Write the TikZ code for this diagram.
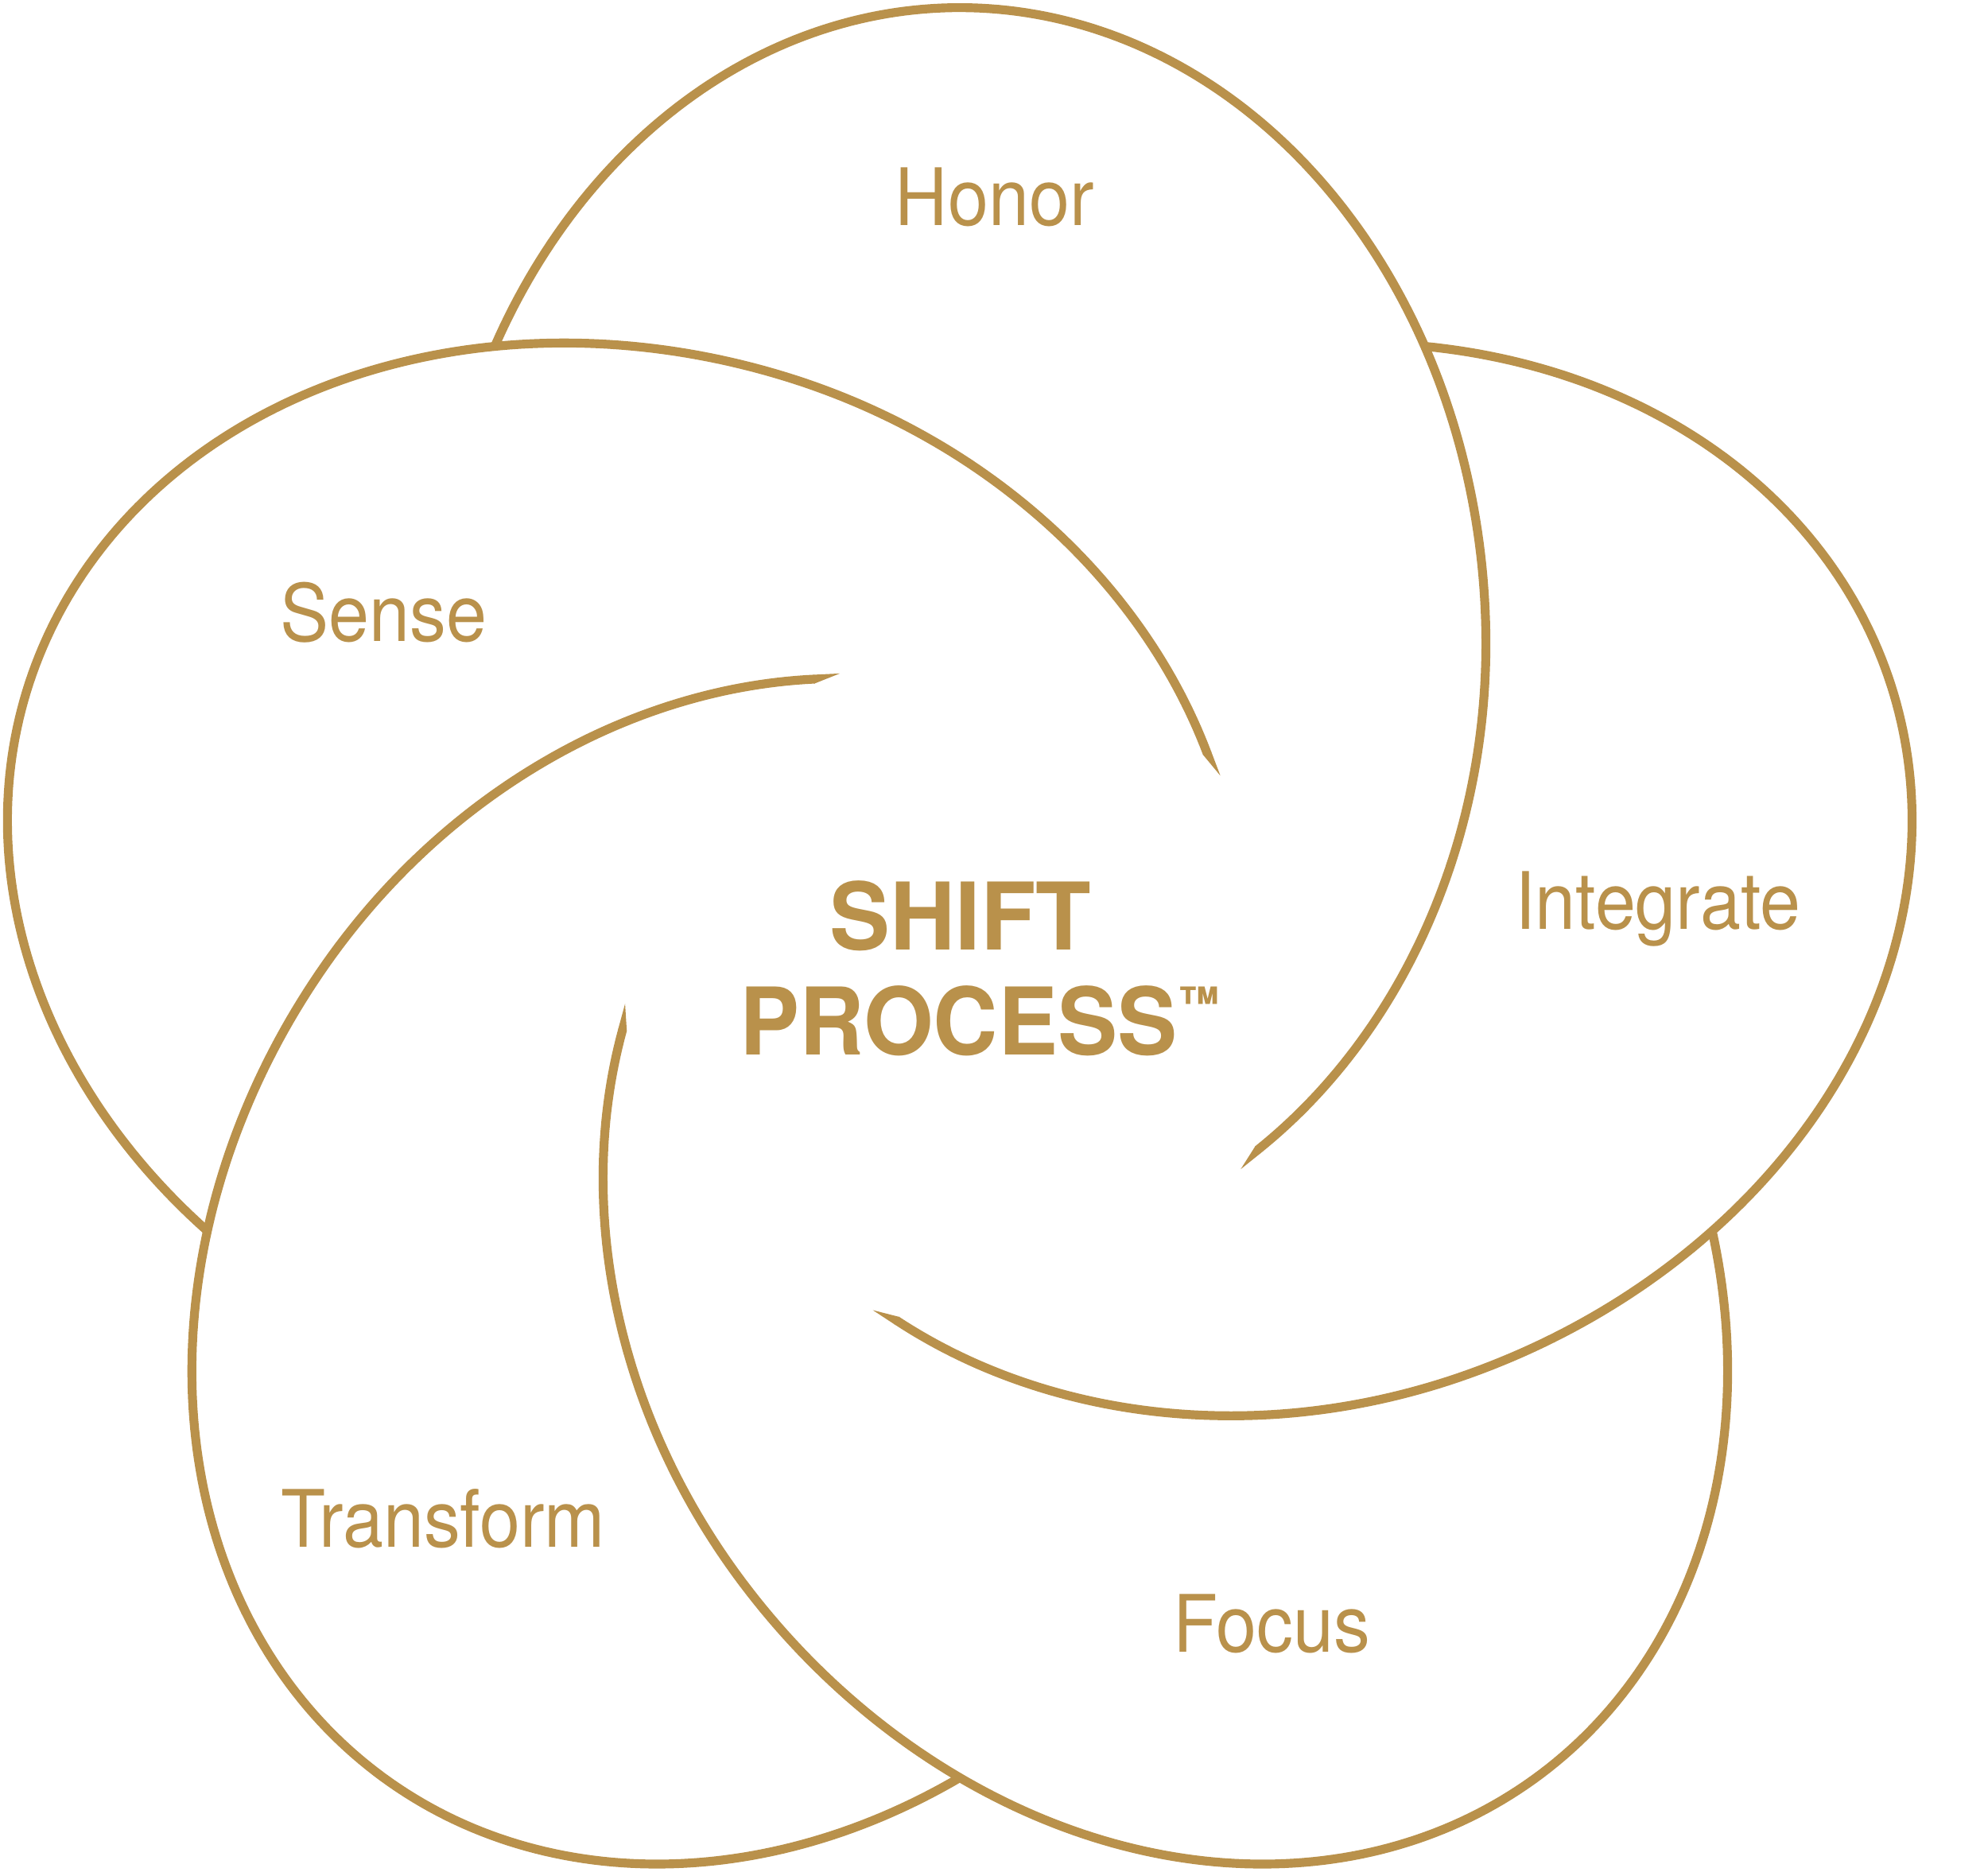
\documentclass[tikz,border=0pt]{standalone}
\usepackage{fontspec}
\setmainfont{TeX Gyre Heros}
\newfontfamily\labfont[FakeStretch=0.92]{TeX Gyre Heros}
\newfontfamily\titfont[FakeStretch=0.97]{TeX Gyre Heros}
\newfontfamily\procfont[FakeStretch=0.96]{TeX Gyre Heros}
\definecolor{gold}{HTML}{B9914B}
\tikzset{
  petalline/.style={draw=gold, line width=7pt, line cap=butt, line join=round},
  lab/.style={text=gold, inner sep=0pt, anchor=base, font=\labfont\fontsize{62.5}{70}\selectfont},
  tit/.style={text=gold, inner sep=0pt, anchor=base, font=\titfont\bfseries\fontsize{73.6}{80}\selectfont},
  proc/.style={text=gold, inner sep=0pt, anchor=base, font=\procfont\bfseries\fontsize{73.6}{80}\selectfont},
  tmark/.style={text=gold, inner sep=0pt, anchor=base west, font=\titfont\bfseries\fontsize{34}{36}\selectfont}
}
\newcommand\petalshape[1]{%
  \begin{scope}[rotate=#1]
    \draw[petalline] plot[domain=-55.5:0, samples=60] ({415*cos(\x)},{270+484*sin(\x)})
      -- plot[domain=0:152.1, samples=150] ({415*cos(\x)},{270+502*sin(\x)});
    \fill[gold] (233.1,-125.95) -- (237.5,-131.35) -- (221.6,-144.1) -- cycle;
  \end{scope}}
\begin{document}
\begin{tikzpicture}[x=1pt,y=1pt]
  \useasboundingbox (-757,-698) rectangle (811,778);
  \fill[white] (-757,-698) rectangle (811,778);
  \petalshape{0}
  \petalshape{72}
  \petalshape{144}
  \petalshape{216}
  \petalshape{288}
  \node[lab] (honor) at (27.5,600) {Honor};
  \node[lab] (sense) at (-454.5,272) {Sense};
  \node[lab] (integrate) at (550.5,45) {Integrate};
  \node[lab] (transform) at (-407.5,-442) {Transform};
  \node[lab] (focus) at (246,-525) {Focus};
  \node[tit] (shift) at (0.5,29) {SHIFT};
  \node[proc] (process) at (-1,-54) {PROCESS};
  \node[tmark] (tm) at ([yshift=28.6pt]process.base east) {™};
\end{tikzpicture}
\end{document}
